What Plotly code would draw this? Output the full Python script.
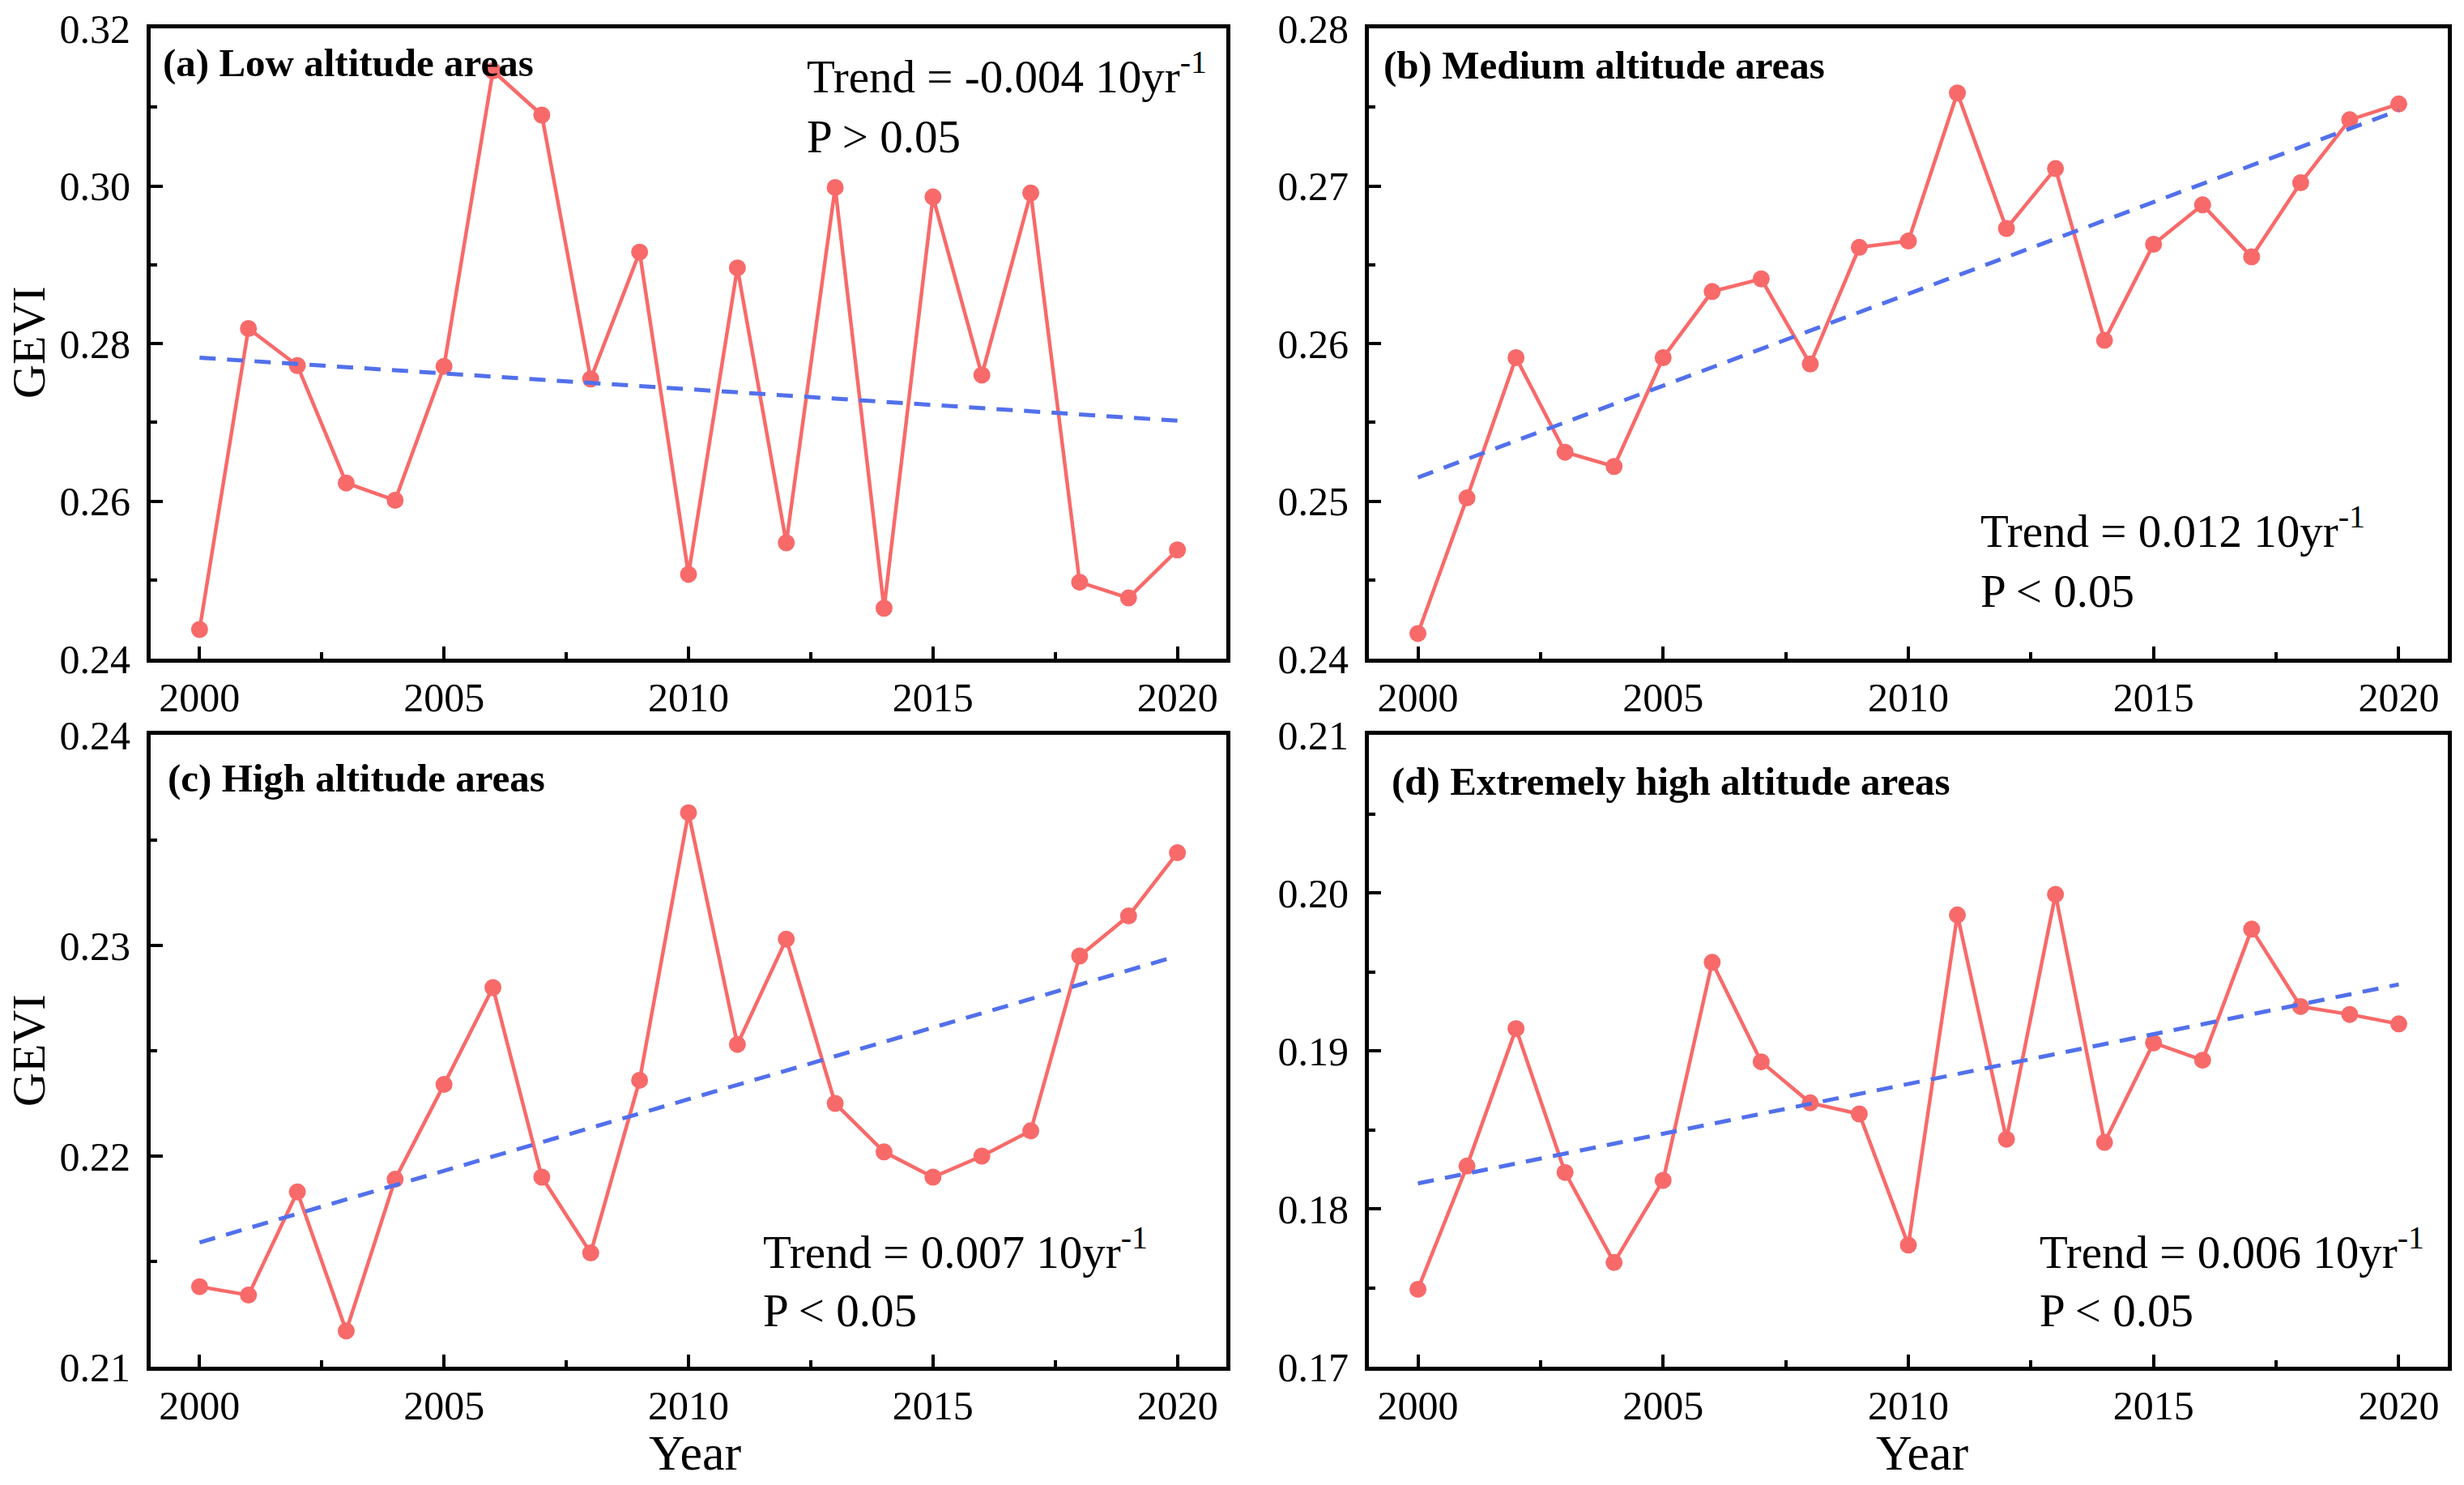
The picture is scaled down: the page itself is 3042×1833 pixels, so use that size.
import plotly.graph_objects as go

years = list(range(2000, 2021))

gevi_low = [0.2437, 0.2819, 0.2772, 0.2623, 0.2601, 0.2771, 0.3146, 0.3090, 0.2755, 0.2916,
            0.2507, 0.2896, 0.2547, 0.2998, 0.2464, 0.2986, 0.2760, 0.2991, 0.2497, 0.2477, 0.2538]
gevi_medium = [0.2416, 0.2502, 0.2591, 0.2531, 0.2522, 0.2591, 0.2633, 0.2641, 0.2587, 0.2661,
               0.2665, 0.2759, 0.2673, 0.2711, 0.2602, 0.2663, 0.2688, 0.2655, 0.2702, 0.2742, 0.2752]
gevi_high = [0.2138, 0.2134, 0.2183, 0.2117, 0.2189, 0.2234, 0.2280, 0.2190, 0.2154, 0.2236,
             0.2363, 0.2253, 0.2303, 0.2225, 0.2202, 0.2190, 0.2200, 0.2212, 0.2295, 0.2314, 0.2344]
gevi_extreme = [0.1749, 0.1827, 0.1914, 0.1823, 0.1766, 0.1818, 0.1956, 0.1893, 0.1867, 0.1860,
                0.1777, 0.1986, 0.1844, 0.1999, 0.1842, 0.1905, 0.1894, 0.1977, 0.1928, 0.1923, 0.1917]

trend_years = [2000, 2020]
trend_low = [0.2782, 0.2702]
trend_medium = [0.2515, 0.2748]
trend_high = [0.2159, 0.2295]
trend_extreme = [0.1816, 0.1942]

panel_titles = ["(a) Low altitude areas", "(b) Medium altitude areas",
                "(c) High altitude areas", "(d) Extremely high altitude areas"]
trend_texts = ["Trend = -0.004 10yr<sup>-1</sup>", "Trend = 0.012 10yr<sup>-1</sup>",
               "Trend = 0.007 10yr<sup>-1</sup>", "Trend = 0.006 10yr<sup>-1</sup>"]
p_texts = ["P > 0.05", "P < 0.05", "P < 0.05", "P < 0.05"]

y_ranges = [[0.24, 0.32], [0.24, 0.28], [0.21, 0.24], [0.17, 0.21]]
y_dticks = [0.02, 0.01, 0.01, 0.01]

W, H = 3042, 1833
FONT = "Liberation Serif"
RED = "#F86A6A"
BLUE = "#5270EC"

x_domains = [[186 / W, 1514 / W], [1690 / W, 3022 / W]]
y_domains = [[1 - 813 / H, 1 - 35 / H], [1 - 1687 / H, 1 - 907 / H]]

series = [gevi_low, gevi_medium, gevi_high, gevi_extreme]
trends = [trend_low, trend_medium, trend_high, trend_extreme]

fig = go.Figure()
layout = {}
for i in range(4):
    row, col = divmod(i, 2)
    ax = "" if i == 0 else str(i + 1)
    fig.add_trace(go.Scatter(x=years, y=series[i], mode="lines+markers",
                             line=dict(color=RED, width=4.5),
                             marker=dict(color=RED, size=21),
                             xaxis="x" + ax, yaxis="y" + ax, showlegend=False))
    fig.add_trace(go.Scatter(x=trend_years, y=trends[i], mode="lines",
                             line=dict(color=BLUE, width=5, dash="20px,14px"),
                             xaxis="x" + ax, yaxis="y" + ax, showlegend=False))
    common = dict(showline=True, linecolor="black", linewidth=5, mirror=True,
                  ticks="inside", ticklen=15, tickwidth=4, tickcolor="black",
                  showgrid=False, zeroline=False, automargin=False,
                  tickfont=dict(family=FONT, size=50, color="black"))
    layout["xaxis" + ax] = dict(common, domain=x_domains[col], range=[1999, 2021],
                                tick0=2000, dtick=5, anchor="y" + ax,
                                ticklabelstandoff=0,
                                minor=dict(ticks="inside", ticklen=8, tickwidth=4,
                                           tickcolor="black", tick0=2000, dtick=2.5))
    layout["yaxis" + ax] = dict(common, domain=y_domains[row], range=y_ranges[i],
                                tick0=y_ranges[i][0], dtick=y_dticks[i], tickformat=".2f",
                                anchor="x" + ax, ticklabelstandoff=10,
                                minor=dict(ticks="inside", ticklen=8, tickwidth=4,
                                           tickcolor="black", tick0=y_ranges[i][0],
                                           dtick=y_dticks[i] / 2))

ann = []
title_pos = [(199, 77), (1706, 80), (205, 960), (1716, 965)]
trend_pos = [(994, 90, 168), (2443, 651, 730), (940, 1541, 1617), (2516, 1541, 1617)]
for i in range(4):
    tx, ty = title_pos[i]
    ann.append(dict(text="<b>" + panel_titles[i] + "</b>", x=tx / W, y=1 - ty / H,
                    xref="paper", yref="paper", xanchor="left", yanchor="middle",
                    showarrow=False, font=dict(family=FONT, size=49, color="black")))
    px, py1, py2 = trend_pos[i]
    ann.append(dict(text=trend_texts[i], x=px / W, y=1 - py1 / H,
                    xref="paper", yref="paper", xanchor="left", yanchor="middle",
                    showarrow=False, font=dict(family=FONT, size=57, color="black")))
    ann.append(dict(text=p_texts[i], x=px / W, y=1 - py2 / H,
                    xref="paper", yref="paper", xanchor="left", yanchor="middle",
                    showarrow=False, font=dict(family=FONT, size=57, color="black")))

for gy in [423, 1297]:
    ann.append(dict(text="GEVI", x=35 / W, y=1 - gy / H, xref="paper", yref="paper",
                    xanchor="center", yanchor="middle", textangle=-90, showarrow=False,
                    font=dict(family=FONT, size=58, color="black")))
for gx in [858, 2373]:
    ann.append(dict(text="Year", x=gx / W, y=4 / H, xref="paper", yref="paper",
                    xanchor="center", yanchor="bottom", showarrow=False,
                    font=dict(family=FONT, size=62, color="black")))

fig.update_layout(width=W, height=H, margin=dict(l=0, r=0, t=0, b=0, autoexpand=False),
                  paper_bgcolor="white", plot_bgcolor="white",
                  annotations=ann, showlegend=False, **layout)

fig.write_html("out.html", config={"displayModeBar": False},
               post_script="document.body.style.margin='0';document.body.style.overflow='hidden';")
